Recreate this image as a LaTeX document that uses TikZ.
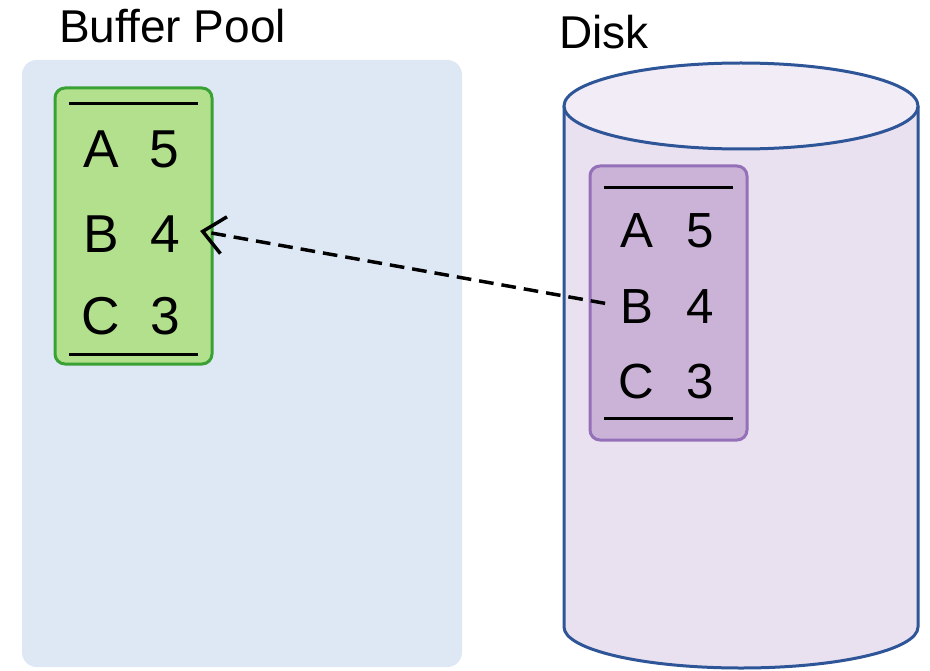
\documentclass[tikz,border=0pt]{standalone}
\usepackage{fontspec}
\setmainfont{Liberation Sans}
\usetikzlibrary{arrows.meta}
\definecolor{poolfill}{HTML}{DDE8F4}
\definecolor{gfill}{HTML}{B3E08D}
\definecolor{gline}{HTML}{3AA135}
\definecolor{cylbody}{HTML}{E9E1EF}
\definecolor{cyltop}{HTML}{F1ECF5}
\definecolor{cylline}{HTML}{2E5597}
\definecolor{pfill}{HTML}{CBB3D8}
\definecolor{pline}{HTML}{9470B9}
\tikzset{
  title/.style={anchor=base west,inner sep=0pt,font=\fontsize{34.5pt}{40pt}\selectfont},
  gtxt/.style={anchor=base,inner sep=0pt,font=\fontsize{40pt}{46pt}\selectfont},
  ptxt/.style={anchor=base,inner sep=0pt,font=\fontsize{37pt}{43pt}\selectfont},
  rule/.style={line width=2.25pt,black},
  dasharrow/.style={line width=2.6pt,dash pattern=on 11pt off 6pt,
     -{Straight Barb[length=16pt,width=28pt,line width=2.6pt]}},
}
\begin{document}
\begin{tikzpicture}[x=0.75pt,y=-0.75pt]
\useasboundingbox (0,0) rectangle (930,670);
% buffer pool region
\fill[poolfill,rounded corners=11pt] (22,60) rectangle (462,667);
\node[title] (bptitle) at (59,43) {Buffer Pool};
% green page
\draw[gline,fill=gfill,line width=2.25pt,rounded corners=7.5pt] (55,88) rectangle (212,364);
\draw[rule] (69,104) -- (198,104);
\draw[rule] (69,354) -- (198,354);
\node[gtxt] (gA) at (101,168) {A};
\node[gtxt] (gA5) at (164.5,168) {5};
\node[gtxt] (gB) at (101,252) {B};
\node[gtxt] (gB4) at (165,252) {4};
\node[gtxt] (gC) at (101,334) {C};
\node[gtxt] (gC3) at (165,334) {3};
% disk
\node[title] (disktitle) at (559,49) {Disk};
\path[fill=cylbody,draw=cylline,line width=2.25pt]
  (564,106) -- (564,627)
  .. controls (564,649.6) and (643.2,668) .. (741,668)
  .. controls (838.8,668) and (918,649.6) .. (918,627)
  -- (918,106);
\draw[fill=cyltop,draw=cylline,line width=2.25pt] (741,106) ellipse [x radius=132.75pt,y radius=32.25pt];
% purple page
\draw[pline,fill=pfill,line width=2.25pt,rounded corners=7.5pt] (590,166) rectangle (747,440);
\draw[rule] (604,188) -- (733,188);
\draw[rule] (604,418) -- (733,418);
\node[ptxt] (pA) at (636.5,247) {A};
\node[ptxt] (pA5) at (700.5,247) {5};
\node[ptxt] (pB) at (636.5,323) {B};
\node[ptxt] (pB4) at (700.5,323) {4};
\node[ptxt] (pC) at (636.5,398) {C};
\node[ptxt] (pC3) at (700.5,398) {3};
% arrow
\draw[dasharrow] ([xshift=-11pt,yshift=2pt]pB.west) -- ([xshift=15pt,yshift=2pt]gB4.east);
\end{tikzpicture}
\end{document}
